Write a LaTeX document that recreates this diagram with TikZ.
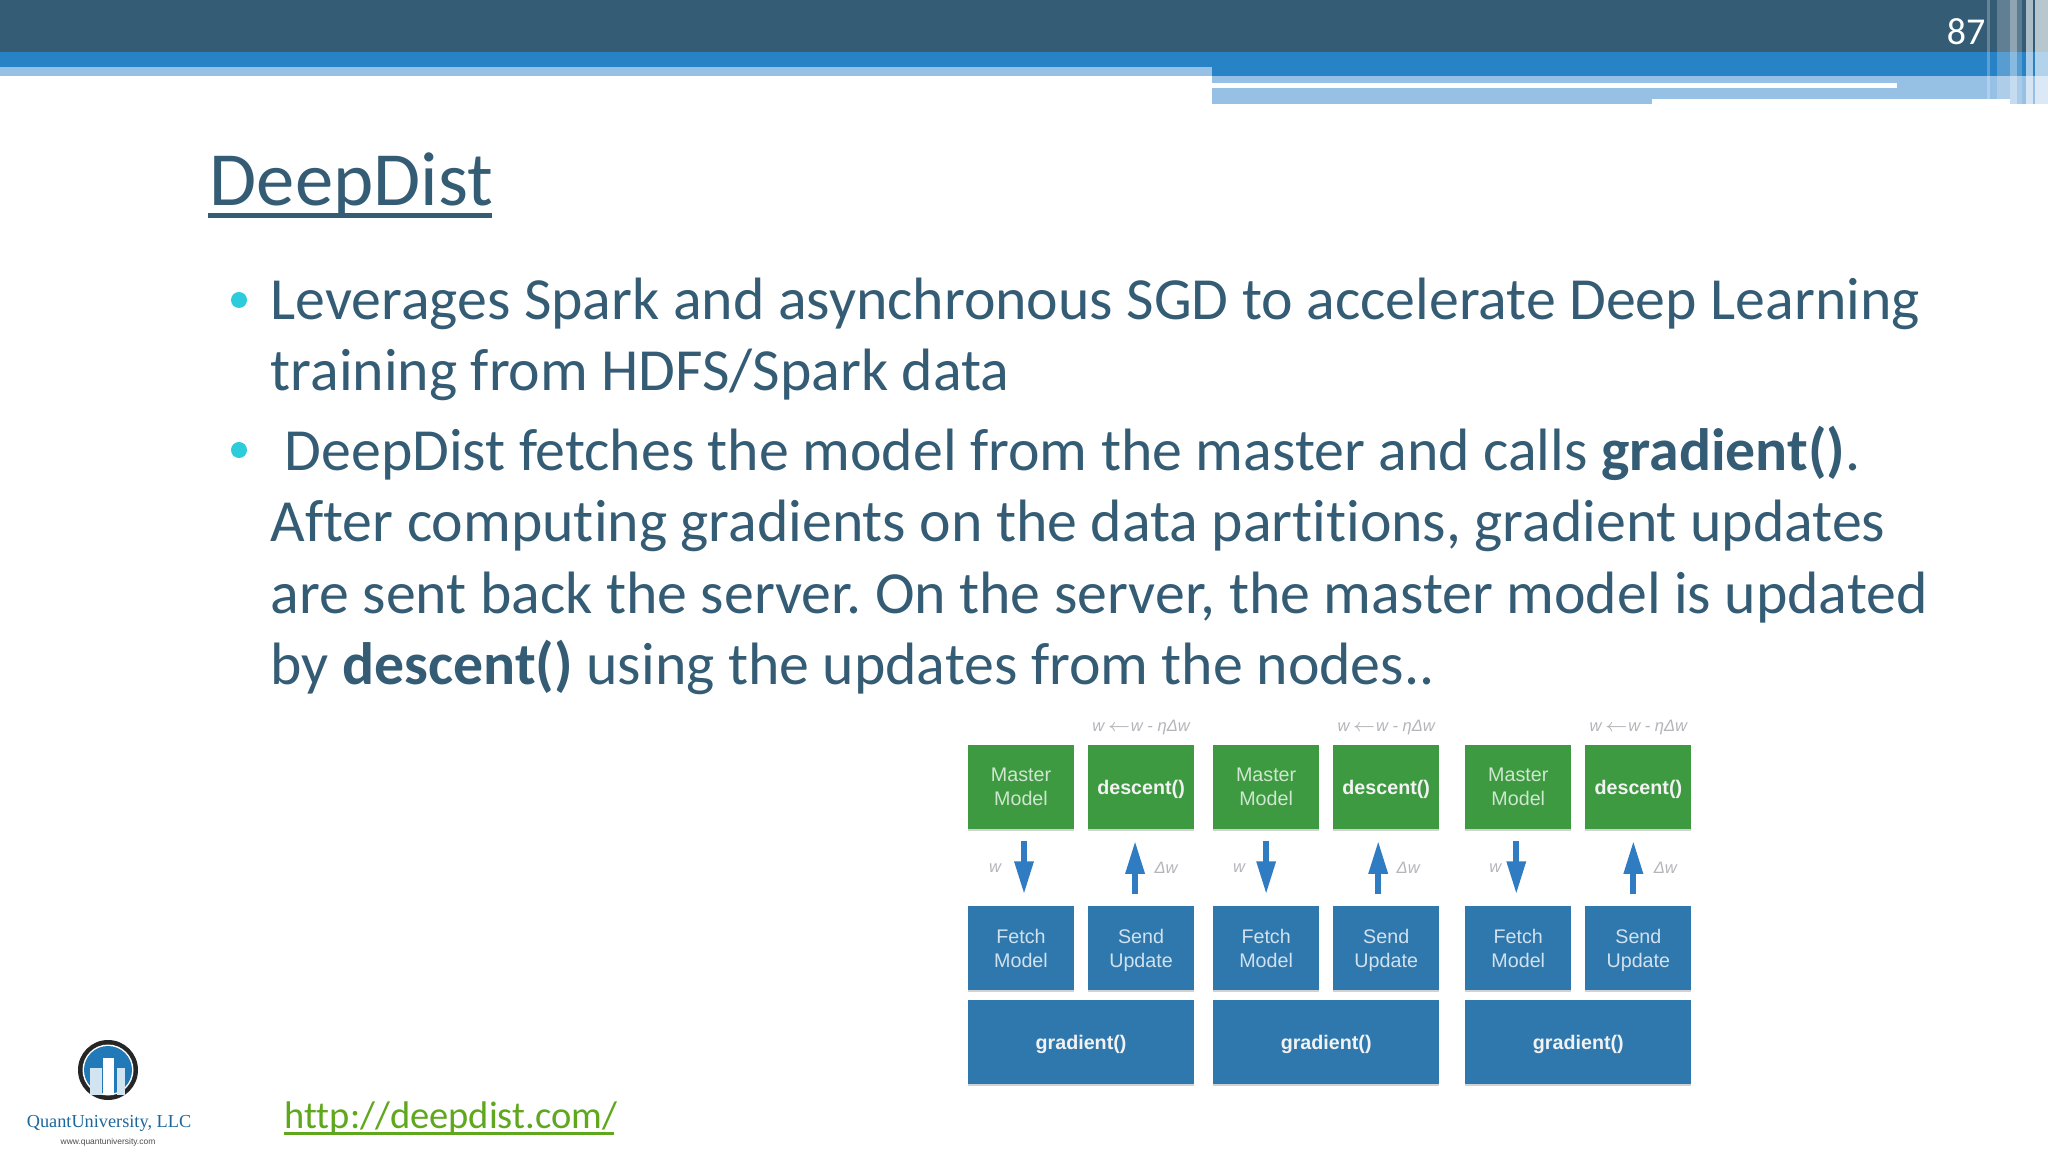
\documentclass[tikz,border=0pt]{standalone}
\usepackage{fontspec}
\setmainfont[Ligatures=NoCommon]{Carlito}
\newfontfamily\boxfont{Liberation Sans}
\newfontfamily\logofont{Liberation Serif}
\usetikzlibrary{arrows.meta,shadows}
\definecolor{slidedark}{HTML}{345C75}
\definecolor{slideblue}{HTML}{2882C6}
\definecolor{slidelight}{HTML}{96C0E4}
\definecolor{bulletcyan}{HTML}{2DCCDB}
\definecolor{linkgreen}{HTML}{5FA81E}
\definecolor{servergreen}{HTML}{3D9A41}
\definecolor{workerblue}{HTML}{2F78AE}
\definecolor{arrowblue}{HTML}{2F7CC3}
\definecolor{labelgrey}{HTML}{B4B4BA}
\definecolor{logoblue}{HTML}{2179B8}
\begin{document}
\begin{tikzpicture}[x=0.01cm, y=-0.01cm, node distance=1.2cm]
    \tikzstyle{server} = [rectangle, minimum width=1.06cm, minimum height=0.84cm, inner sep=0pt, align=center, fill=servergreen, text=white!75!servergreen, font=\boxfont\fontsize{5.6}{6.9}\selectfont, drop shadow={shadow xshift=0cm, shadow yshift=-0.015cm, opacity=.35}]
    \tikzstyle{worker} = [server, fill=workerblue, text=white!78!workerblue]
    \tikzstyle{call} = [font=\boxfont\bfseries\fontsize{5.6}{6.9}\selectfont, text=white!95!black, text height=4.4pt, text depth=0pt]
    \tikzstyle{wide} = [worker, call, minimum width=2.26cm]
    \tikzstyle{weight} = [inner sep=0pt, text=labelgrey, font=\boxfont\itshape\fontsize{4.7}{6}\selectfont]
    \tikzstyle{push} = [draw=arrowblue, line width=0.06cm, -{Triangle[width=0.18cm, length=0.33cm]}, shorten >=0.11cm, shorten <=0.11cm]
    \tikzstyle{bodytext} = [anchor=north west, inner sep=0pt, text width=18cm, align=flush left, text=slidedark, font=\frenchspacing\fontsize{17}{20.35}\selectfont]
    \tikzstyle{dot} = [circle, inner sep=0pt, minimum size=0.16cm, fill=bulletcyan]

    \useasboundingbox (0,0) rectangle (2048,1152);
    \fill [white] (0,0) rectangle (2048,1152);

    % Header bands
    \fill [slidedark] (0,0) rectangle (2048,52);
    \fill [slideblue] (0,52) rectangle (2048,67);
    \fill [slideblue] (1212,67) rectangle (2048,76);
    \fill [slidelight] (0,67) rectangle (1212,76);
    \fill [slidelight] (1212,76) rectangle (2048,104);
    \fill [white] (1212,83) rectangle (1897,88);
    \fill [white] (1652,99) rectangle (2010,104);

    % Header stripes
    \fill [white, opacity=.25] (1987,0) rectangle (1990,99);
    \fill [white, opacity=.22] (1997,0) rectangle (2010,99);
    \fill [white, opacity=.45] (2010,0) rectangle (2017,104);
    \fill [white, opacity=.2] (2017,0) rectangle (2022,104);
    \fill [white, opacity=.6] (2026,0) rectangle (2033,104);
    \fill [white, opacity=.65] (2035,0) rectangle (2048,104);

    \node [inner sep=0pt, text=white, font=\fontsize{10.8}{12}\selectfont] (page) at (1966,32) {87};

    % Title and bullets
    \node [anchor=base west, inner sep=0pt, text=slidedark, font=\fontsize{21.8}{24}\selectfont] (title) at (209,206) {DeepDist};
    \fill [slidedark] (208,213) rectangle (492,218);

    \node [dot] (dot_a) at (239,300) {};
    \node [dot] (dot_b) at (239,450) {};
    \node [bodytext] (point_a) at (270,277) {Leverages Spark and asynchronous SGD to accelerate Deep Learning\\training from HDFS/Spark data};
    \node [bodytext] (point_b) at (270,425) {\hspace*{0.14cm}DeepDist fetches the model from the master and calls \textbf{gradient()}.\\After computing gradients on the data partitions, gradient updates\\are sent back the server. On the server, the master model is updated\\by \textbf{descent()} using the updates from the nodes..};

    % First group
    \node [server] (master_a) at (1021,787) {Master\\Model};
    \node [server, call, right of=master_a] (descent_a) {descent()};
    \node [worker, below of=master_a, yshift=-0.41cm] (fetch_a) {Fetch\\Model};
    \node [worker, below of=descent_a, yshift=-0.41cm] (send_a) {Send\\\smash{Update}};
    \node [wide, below of=fetch_a, xshift=0.6cm, yshift=0.26cm] (gradient_a) {gradient()};

    % Second group
    \node [server, right of=descent_a, xshift=0.05cm] (master_b) {Master\\Model};
    \node [server, call, right of=master_b] (descent_b) {descent()};
    \node [worker, below of=master_b, yshift=-0.41cm] (fetch_b) {Fetch\\Model};
    \node [worker, below of=descent_b, yshift=-0.41cm] (send_b) {Send\\\smash{Update}};
    \node [wide, below of=fetch_b, xshift=0.6cm, yshift=0.26cm] (gradient_b) {gradient()};

    % Third group
    \node [server, right of=descent_b, xshift=0.12cm] (master_c) {Master\\Model};
    \node [server, call, right of=master_c] (descent_c) {descent()};
    \node [worker, below of=master_c, yshift=-0.41cm] (fetch_c) {Fetch\\Model};
    \node [worker, below of=descent_c, yshift=-0.41cm] (send_c) {Send\\\smash{Update}};
    \node [wide, below of=fetch_c, xshift=0.6cm, yshift=0.26cm] (gradient_c) {gradient()};

    % Connections
    \draw [push] ([xshift=0.03cm]master_a.south) -- ([xshift=0.03cm]fetch_a.north);
    \draw [push] ([xshift=-0.06cm]send_a.north) -- ([xshift=-0.06cm]descent_a.south);
    \draw [push] ([xshift=0cm]master_b.south) -- ([xshift=0cm]fetch_b.north);
    \draw [push] ([xshift=-0.08cm]send_b.north) -- ([xshift=-0.08cm]descent_b.south);
    \draw [push] ([xshift=-0.02cm]master_c.south) -- ([xshift=-0.02cm]fetch_c.north);
    \draw [push] ([xshift=-0.05cm]send_c.north) -- ([xshift=-0.05cm]descent_c.south);

    % Weight labels
    \node [weight, node distance=0.59cm, above of=descent_a] (rule_a) {w\,$\leftarrow$w - ηΔw};
    \node [weight, node distance=0.59cm, above of=descent_b] (rule_b) {w\,$\leftarrow$w - ηΔw};
    \node [weight, node distance=0.59cm, above of=descent_c] (rule_c) {w\,$\leftarrow$w - ηΔw};
    \node [weight, node distance=0.81cm, below of=master_a, xshift=-0.26cm] (fetched_a) {w};
    \node [weight, node distance=0.81cm, below of=descent_a, xshift=0.25cm] (update_a) {Δw};
    \node [weight, node distance=0.81cm, below of=master_b, xshift=-0.27cm] (fetched_b) {w};
    \node [weight, node distance=0.81cm, below of=descent_b, xshift=0.22cm] (update_b) {Δw};
    \node [weight, node distance=0.81cm, below of=master_c, xshift=-0.23cm] (fetched_c) {w};
    \node [weight, node distance=0.81cm, below of=descent_c, xshift=0.27cm] (update_c) {Δw};

    % Logo
    \fill [black!85] (108,1070) circle (30);
    \fill [white] (108,1070) circle (25.5);
    \fill [logoblue] (108,1070) circle (24);
    \fill [white!80!logoblue] (90,1068) rectangle (102,1095);
    \fill [white] (103,1058) rectangle (114,1095);
    \fill [white!80!logoblue] (117,1068) rectangle (125,1095);
    \node [inner sep=0pt, text=logoblue!85!black, font=\logofont\fontsize{5.2}{6}\selectfont] (logo_name) at (109,1123) {QuantUniversity, LLC};
    \node [inner sep=0pt, text=black!70, font=\boxfont\fontsize{2.4}{3}\selectfont] (logo_site) at (108,1142) {www.quantuniversity.com};

    % Link
    \node [anchor=base west, inner sep=0pt, text=linkgreen, font=\fontsize{10.95}{14}\selectfont] (link) at (284,1128) {http://deepdist.com/};
    \fill [linkgreen] (284,1132) rectangle (614,1134.5);
\end{tikzpicture}
\end{document}
